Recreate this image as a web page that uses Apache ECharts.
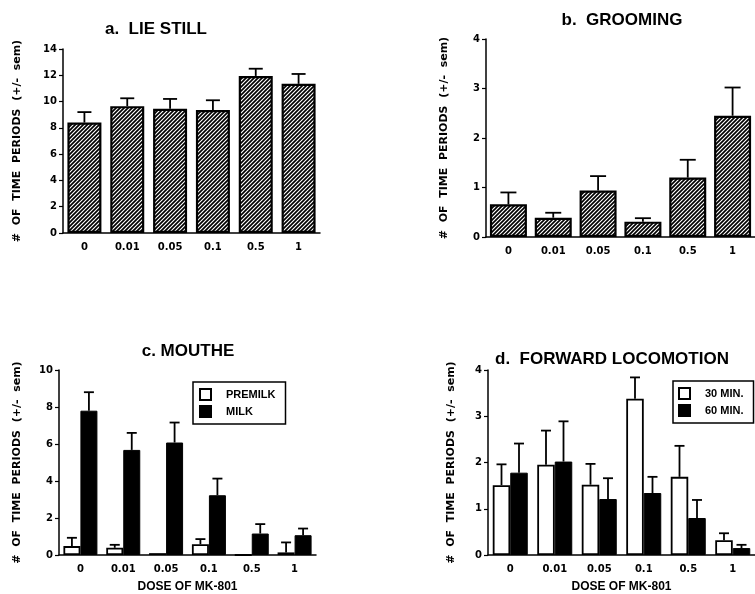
<!DOCTYPE html>
<html>
<head>
<meta charset="utf-8">
<script src="https://cdn.jsdelivr.net/npm/echarts@6/dist/echarts.min.js"></script>
<style>
html,body{margin:0;padding:0;background:#fff;}
#main{width:755px;height:594px;}
</style>
</head>
<body>
<div id="main"></div>
<script>
// ---- data ----
const doses = ['0', '0.01', '0.05', '0.1', '0.5', '1'];

const lieStillMean = [8.4, 9.65, 9.45, 9.35, 11.95, 11.35];
const lieStillSem  = [0.8, 0.6, 0.75, 0.75, 0.55, 0.75];

const groomMean = [0.66, 0.39, 0.94, 0.31, 1.2, 2.45];
const groomSem  = [0.24, 0.1, 0.29, 0.07, 0.36, 0.57];

const premilkMean = [0.48, 0.39, 0.1, 0.58, 0, 0.14];
const premilkSem  = [0.45, 0.16, 0, 0.28, 0, 0.54];
const milkMean    = [7.8, 5.68, 6.08, 3.23, 1.16, 1.07];
const milkSem     = [1.0, 0.92, 1.08, 0.9, 0.51, 0.36];

const min30Mean = [1.51, 1.95, 1.52, 3.38, 1.69, 0.32];
const min30Sem  = [0.45, 0.74, 0.45, 0.46, 0.67, 0.15];
const min60Mean = [1.78, 2.02, 1.21, 1.34, 0.8, 0.15];
const min60Sem  = [0.63, 0.87, 0.45, 0.35, 0.39, 0.07];

const titles = ['a.  LIE STILL', 'b.  GROOMING', 'c. MOUTHE', 'd.  FORWARD LOCOMOTION'];
const yName = '#  OF  TIME  PERIODS  (+/-  sem)';
const xName = 'DOSE OF MK-801';

// ---- styles ----
const hatch = document.createElement('canvas');
hatch.width = 4; hatch.height = 4;
(function(){
  const c = hatch.getContext('2d');
  c.fillStyle = '#fff'; c.fillRect(0,0,4,4);
  c.strokeStyle = '#000'; c.lineWidth = 1.7;
  c.beginPath();
  c.moveTo(-1,1); c.lineTo(1,-1);
  c.moveTo(0,4); c.lineTo(4,0);
  c.moveTo(3,5); c.lineTo(5,3);
  c.stroke();
})();
const hatchFill = {image: hatch, repeat: 'repeat'};

const tickFont = {fontFamily: 'DejaVu Sans', fontWeight: 'bold', fontSize: 10, color: '#000'};

function mkX(gi, withName){
  return {
    type: 'category', gridIndex: gi, data: doses,
    axisLine: {lineStyle: {color: '#000', width: 1.5}},
    axisTick: {lineStyle: {color: '#000', width: 1.2}, length: 3},
    axisLabel: Object.assign({margin: 9}, tickFont),
    name: withName ? xName : '', nameLocation: 'middle', nameGap: 26,
    nameTextStyle: {fontFamily: 'Liberation Sans', fontWeight: 'bold', fontSize: 12, color: '#000'}
  };
}
function mkY(gi, max, interval, gap){
  return {
    type: 'value', gridIndex: gi, min: 0, max: max, interval: interval,
    splitLine: {show: false},
    axisLine: {show: true, lineStyle: {color: '#000', width: 1.5}},
    axisTick: {show: true, length: 4, lineStyle: {color: '#000', width: 1.2}},
    axisLabel: Object.assign({margin: 6}, tickFont),
    name: yName, nameLocation: 'middle', nameRotate: 90, nameGap: gap,
    nameTextStyle: {fontFamily: 'DejaVu Sans', fontWeight: 'bold', fontSize: 11, color: '#000'}
  };
}
function errSeries(gi, means, sems, off, cap){
  const data = [];
  means.forEach(function(m, i){ if (sems[i] > 0) data.push([i, m, m + sems[i]]); });
  return {
    type: 'custom', xAxisIndex: gi, yAxisIndex: gi, z: 5,
    encode: {x: 0, y: [1, 2]},
    data: data,
    renderItem: function(params, api){
      const b = api.coord([api.value(0), api.value(1)]);
      const t = api.coord([api.value(0), api.value(2)]);
      const x = b[0] + off;
      const st = {stroke: '#000', lineWidth: 1.8};
      return {type: 'group', children: [
        {type: 'line', shape: {x1: x, y1: b[1], x2: x, y2: t[1]}, style: st},
        {type: 'line', shape: {x1: x - cap, y1: t[1], x2: x + cap, y2: t[1]}, style: st}
      ]};
    }
  };
}
const titleStyle = {fontFamily: 'Liberation Sans', fontWeight: 'bold', fontSize: 17, color: '#000'};
const legendText = {fontFamily: 'Liberation Sans', fontWeight: 'bold', fontSize: 11, color: '#000', padding: [0,0,0,10]};
const legendBase = {
  orient: 'vertical', itemWidth: 11, itemHeight: 11, itemGap: 4, icon: 'rect',
  borderColor: '#000', borderWidth: 1.5, borderRadius: 0, backgroundColor: '#fff',
  textStyle: legendText, selectedMode: false
};

const chart = echarts.init(document.getElementById('main'), null, {renderer: 'canvas'});
chart.setOption({
  animation: false,
  backgroundColor: '#fff',
  title: [
    {text: titles[0], left: 151, top: 16, textAlign: 'center', textStyle: titleStyle},
    {text: titles[1], left: 617, top: 7, textAlign: 'center', textStyle: titleStyle},
    {text: titles[2], left: 183, top: 338, textAlign: 'center', textStyle: titleStyle},
    {text: titles[3], left: 607, top: 346, textAlign: 'center', textStyle: titleStyle}
  ],
  legend: [
    Object.assign({left: 193, top: 382, padding: [6, 10, 6, 6], data: ['PREMILK', 'MILK']}, legendBase),
    Object.assign({left: 673, top: 381, padding: [6, 10, 6, 5], data: ['30 MIN.', '60 MIN.']}, legendBase)
  ],
  grid: [
    {left: 63, top: 49, width: 257, height: 184},
    {left: 486, top: 39, width: 270, height: 198},
    {left: 59, top: 370, width: 257, height: 186},
    {left: 488, top: 370, width: 270, height: 185}
  ],
  xAxis: [mkX(0, false), mkX(1, false), mkX(2, true), mkX(3, true)],
  yAxis: [mkY(0, 14, 2, 40), mkY(1, 4, 1, 36), mkY(2, 10, 2, 36), mkY(3, 4, 1, 31)],
  series: [
    {type: 'bar', name: 'LIE STILL', xAxisIndex: 0, yAxisIndex: 0, data: lieStillMean, barWidth: 34,
     itemStyle: {color: hatchFill, borderColor: '#000', borderWidth: 2.2}},
    errSeries(0, lieStillMean, lieStillSem, 0, 7),
    {type: 'bar', name: 'GROOMING', xAxisIndex: 1, yAxisIndex: 1, data: groomMean, barWidth: 37,
     itemStyle: {color: hatchFill, borderColor: '#000', borderWidth: 2.2}},
    errSeries(1, groomMean, groomSem, 0, 8),
    {type: 'bar', name: 'PREMILK', xAxisIndex: 2, yAxisIndex: 2, data: premilkMean, barWidth: 17, barGap: '0%',
     itemStyle: {color: '#fff', borderColor: '#000', borderWidth: 1.8}},
    {type: 'bar', name: 'MILK', xAxisIndex: 2, yAxisIndex: 2, data: milkMean, barWidth: 17, barGap: '0%',
     itemStyle: {color: '#000', borderColor: '#000', borderWidth: 1}},
    errSeries(2, premilkMean, premilkSem, -8.5, 5),
    errSeries(2, milkMean, milkSem, 8.5, 5),
    {type: 'bar', name: '30 MIN.', xAxisIndex: 3, yAxisIndex: 3, data: min30Mean, barWidth: 17.5, barGap: '0%',
     itemStyle: {color: '#fff', borderColor: '#000', borderWidth: 1.8}},
    {type: 'bar', name: '60 MIN.', xAxisIndex: 3, yAxisIndex: 3, data: min60Mean, barWidth: 17.5, barGap: '0%',
     itemStyle: {color: '#000', borderColor: '#000', borderWidth: 1}},
    errSeries(3, min30Mean, min30Sem, -8.75, 5),
    errSeries(3, min60Mean, min60Sem, 8.75, 5)
  ]
});
</script>
</body>
</html>
